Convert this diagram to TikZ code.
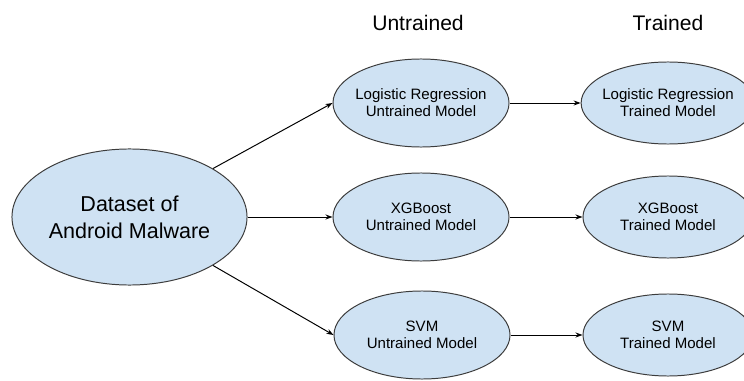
\documentclass[tikz,border=0pt]{standalone}
\usepackage{fontspec}
\setmainfont{Liberation Sans}
\usepackage{tikz}
\usetikzlibrary{shapes.geometric, arrows.meta}

\definecolor{cellblue}{HTML}{CFE2F3}
\definecolor{rimgray}{HTML}{3C3C3C}

\begin{document}
\begin{tikzpicture}[x=0.025cm, y=-0.025cm,
    every node/.style={font=\fontsize{10.7}{12.2}\selectfont, align=center},
    model/.style={ellipse, draw=rimgray, fill=cellblue, line width=0.7pt, inner xsep=-3pt, inner ysep=0pt},
    untrainedbox/.style={model, minimum width=4.4cm, minimum height=2.2cm},
    trainedbox/.style={model, minimum width=4.25cm, minimum height=2.05cm},
    link/.style={-{Stealth[length=5pt, width=3.6pt]}, line width=0.7pt, black}]
  \useasboundingbox (0,0) rectangle (744,381);
  \clip (0,0) rectangle (744,381);
  % column headers
  \node[font=\fontsize{15}{19}\selectfont] (hdruntr) at (418,23) {Untrained};
  \node[font=\fontsize{15}{19}\selectfont] (hdrtr) at (668,23) {Trained};
  % source
  \node[model, inner xsep=0pt, minimum width=5.875cm, minimum height=3.4cm, font=\fontsize{15.3}{19.3}\selectfont] (data) at (129.5,217) {Dataset of\\Android Malware};
  % untrained models
  \node[untrainedbox] (lr0) at (421,103) {Logistic Regression\\Untrained Model};
  \node[untrainedbox] (xgb0) at (421,217) {XGBoost\\Untrained Model};
  \node[untrainedbox] (svm0) at (422,335) {SVM\\Untrained Model};
  % trained models
  \node[trainedbox] (lr1) at (668,103) {Logistic Regression\\Trained Model};
  \node[trainedbox] (xgb1) at (668,217) {XGBoost\\Trained Model};
  \node[trainedbox] (svm1) at (668,335) {SVM\\Trained Model};
  % connectors
  \draw[link] (data.north east) -- (lr0.west);
  \draw[link] (data.east) -- (xgb0.west);
  \draw[link] (data.south east) -- (svm0.west);
  \draw[link] (lr0.east) -- (lr1.west);
  \draw[link] (xgb0.east) -- (xgb1.west);
  \draw[link] (svm0.east) -- (svm1.west);
\end{tikzpicture}
\end{document}
